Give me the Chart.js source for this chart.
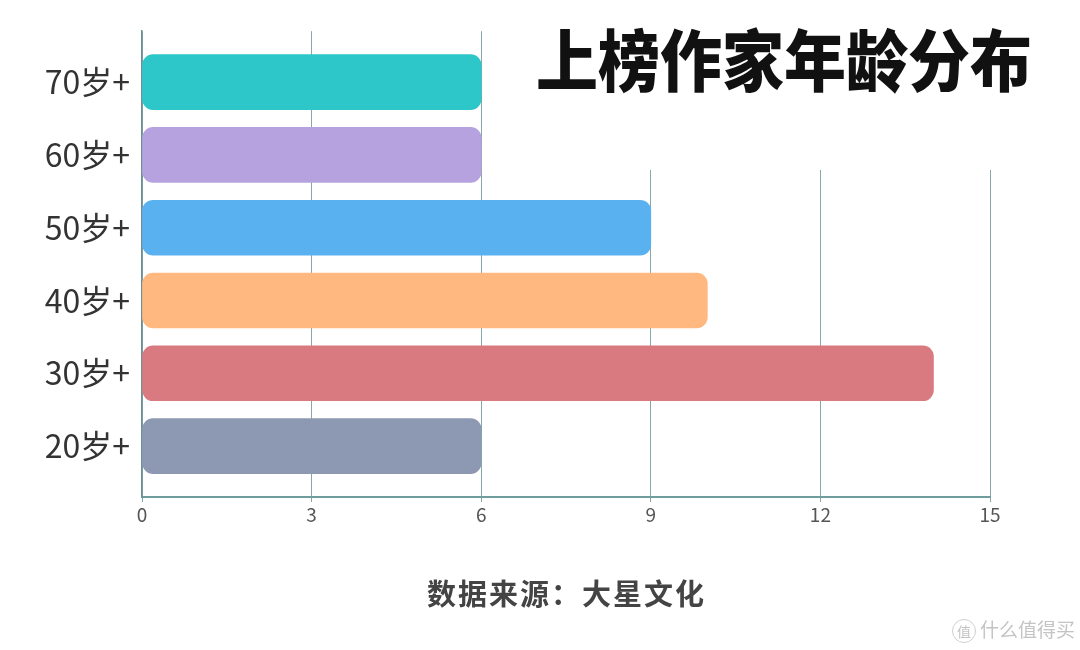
<!DOCTYPE html>
<html lang="zh">
<head>
<meta charset="UTF-8" />
<title>上榜作家年龄分布</title>
<style>
  body { margin: 0; background: #fff; }
  #wrap { position: relative; width: 1080px; height: 650px; }
  #title {
    position: absolute; left: 505px; top: 0; width: 575px; height: 170px; background: #fff;
  }
  #title span {
    position: absolute; left: 31px; top: 8px;
    font: 900 62px "Noto Sans CJK SC", sans-serif; color: #111;
    transform: scaleY(1.08); transform-origin: top left; white-space: nowrap;
  }
  #source {
    position: absolute; left: 427px; top: 571px; letter-spacing: 2px;
    font: 700 29px "Noto Sans CJK SC", sans-serif; color: #444; white-space: nowrap;
  }
  #mark {
    position: absolute; left: 952px; top: 615px;
    font: 400 19px "Noto Sans CJK SC", sans-serif; color: #c4c4c4; white-space: nowrap;
  }
  #mark b {
    display: inline-block; width: 22px; height: 22px; line-height: 22px; text-align: center;
    border: 1.5px solid #cfcfcf; border-radius: 50%; font-size: 14px; font-weight: 400; margin-right: 4px;
  }
</style>
</head>
<body>
<div id="wrap">
  <canvas id="myChart" width="1080" height="650"></canvas>
  <div id="title"><span>上榜作家年龄分布</span></div>
  <div id="source">数据来源：大星文化</div>
  <div id="mark"><b>值</b>什么值得买</div>
</div>

<script src="https://cdn.jsdelivr.net/npm/chart.js"></script>
<script>
  // bottom to top, as in the picture
  const categories = ['20岁+', '30岁+', '40岁+', '50岁+', '60岁+', '70岁+'];
  const counts = [6, 14, 10, 9, 6, 6];
  const barColors = ['#8d98b3', '#d87a80', '#ffb980', '#5ab1ef', '#b6a2de', '#2ec7c9'];
  const xTicks = [0, 3, 6, 9, 12, 15];

  const gridColor = '#86a8a8';

  const config = {
    type: 'bar',
    data: {
      datasets: [{
        data: categories.map((c, i) => ({ x: counts[i], y: i })),
        backgroundColor: barColors,
        borderRadius: 11,
        borderSkipped: false,
        barThickness: 55
      }]
    },
    options: {
      indexAxis: 'y',
      responsive: false,
      animation: false,
      layout: { padding: { left: 0, right: 90, top: 28, bottom: 113 } },
      plugins: { legend: { display: false }, tooltip: { enabled: false } },
      scales: {
        x: {
          type: 'linear',
          min: 0, max: 15,
          afterBuildTicks: s => { s.ticks = xTicks.map(v => ({ value: v })); },
          afterFit: s => { s.height = 40; },
          grid: { color: gridColor, lineWidth: 1, tickLength: 5 },
          border: { color: '#6f9c9c', width: 2 },
          ticks: { color: '#555', font: { family: 'Noto Sans CJK SC', size: 19 }, padding: 1 }
        },
        y: {
          type: 'linear',
          offset: false,
          min: -0.7, max: 5.7,
          afterBuildTicks: s => { s.ticks = categories.map((c, i) => ({ value: i })); },
          afterFit: s => { s.width = 142; },
          grid: { display: false, drawTicks: false, offset: false },
          border: { color: '#6f8f96', width: 1.5 },
          ticks: {
            color: '#333',
            padding: 12,
            font: { family: 'Noto Sans CJK SC', size: 32 },
            callback: v => categories[v]
          }
        }
      }
    }
  };

  const myChart = new Chart(document.getElementById('myChart'), config);
</script>
</body>
</html>
